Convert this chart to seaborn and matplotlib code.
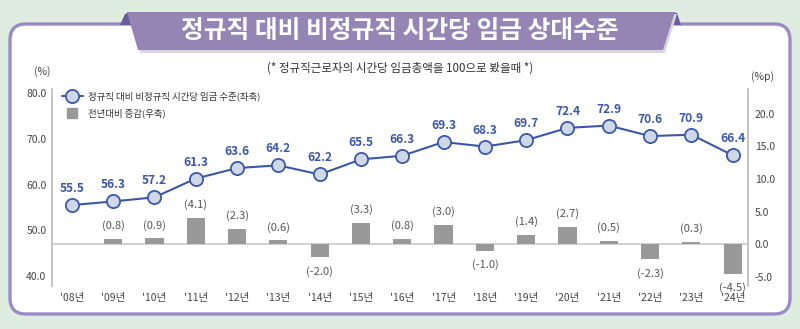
import numpy as np
import pandas as pd
import matplotlib
matplotlib.use("Agg")
import matplotlib.pyplot as plt
from matplotlib.patches import FancyBboxPatch, Polygon
from matplotlib.lines import Line2D
from matplotlib.transforms import IdentityTransform
import seaborn as sns

# ---- data ----
years = ["'08년", "'09년", "'10년", "'11년", "'12년", "'13년", "'14년", "'15년", "'16년",
         "'17년", "'18년", "'19년", "'20년", "'21년", "'22년", "'23년", "'24년"]
relative_wage = [55.5, 56.3, 57.2, 61.3, 63.6, 64.2, 62.2, 65.5, 66.3,
                 69.3, 68.3, 69.7, 72.4, 72.9, 70.6, 70.9, 66.4]
yoy_change = [np.nan, 0.8, 0.9, 4.1, 2.3, 0.6, -2.0, 3.3, 0.8,
              3.0, -1.0, 1.4, 2.7, 0.5, -2.3, 0.3, -4.5]

title = "정규직 대비 비정규직 시간당 임금 상대수준"
subtitle = "(* 정규직근로자의 시간당 임금총액을 100으로 봤을때 *)"
line_label = "정규직 대비 비정규직 시간당 임금 수준(좌축)"
bar_label = "전년대비 증감(우축)"

df = pd.DataFrame({"idx": np.arange(len(years)), "year": years,
                   "wage": relative_wage, "change": yoy_change})

sns.set_theme(style="white")
plt.rcParams["font.family"] = ["Noto Sans CJK KR", "DejaVu Sans"]

W, H = 800, 329
BG = "#dfede0"
PURPLE = "#9585b5"
PURPLE_DARK = "#6a5aa0"
BORDER = "#9c8ac4"
BLUE = "#3b58a8"
MARKER_FILL = "#cfd8e7"
BAR = "#999999"
TICK = "#444444"

fig = plt.figure(figsize=(W / 100, H / 100), dpi=100, facecolor=BG)


def px(x, y):
    """top-left pixel coordinates -> display coordinates"""
    return (x, H - y)


# white rounded panel
panel = FancyBboxPatch(px(10, 314), 780, 290,
                       boxstyle="round,pad=0,rounding_size=16",
                       facecolor="white", edgecolor=BORDER, linewidth=2.4,
                       transform=IdentityTransform(), zorder=-5)
fig.patches.append(panel)

# title banner with folded corners
fold_l = Polygon([px(120, 25), px(125, 14), px(129, 12), px(133, 25)], closed=True,
                 facecolor=PURPLE_DARK, edgecolor="none", transform=IdentityTransform(), zorder=-4)
fold_r = Polygon([px(668, 25), px(673, 12), px(677, 13), px(681, 25)], closed=True,
                 facecolor=PURPLE_DARK, edgecolor="none", transform=IdentityTransform(), zorder=-4)
shadow = Polygon([px(129, 14), px(677, 14), px(665, 53), px(140, 53)], closed=True,
                 facecolor="#d9d6de", edgecolor="none", transform=IdentityTransform(), zorder=-4)
banner = Polygon([px(127, 12), px(675, 12), px(663, 50), px(138, 50)], closed=True,
                 facecolor=PURPLE, edgecolor="none", transform=IdentityTransform(), zorder=-3)
for p in (fold_l, fold_r, shadow, banner):
    fig.patches.append(p)

fig.text(400 / W, 1 - 31 / H, title, ha="center", va="center", color="white",
         fontsize=17.8, fontweight="bold", zorder=3)
fig.text(400 / W, 1 - 68 / H, subtitle, ha="center", va="center", color="#333333",
         fontsize=8.3, zorder=3)
fig.text(42 / W, 1 - 72 / H, "(%)", ha="center", va="center", color=TICK, fontsize=7.5)
fig.text(762 / W, 1 - 77 / H, "(%p)", ha="center", va="center", color=TICK, fontsize=7.5)

# ---- axes ----
ax1 = fig.add_axes([52 / W, 1 - 286 / H, (748 - 52) / W, (286 - 89) / H])
ax1.patch.set_visible(False)
ax2 = ax1.twinx()
ax2.patch.set_visible(False)

# bars: change vs previous year (right axis)
bar_df = df.dropna(subset=["change"])
sns.barplot(data=bar_df, x="idx", y="change", native_scale=True, width=0.44,
            color=BAR, saturation=1, linewidth=0, ax=ax2, zorder=2)
ax2.axhline(0, color="#c8c8c8", lw=1.2, zorder=1)
for x, v in zip(bar_df["idx"], bar_df["change"]):
    off = 1.2 if v >= 0 else -1.3
    ax2.text(x, v + off, f"({v:.1f})", ha="center",
             va="bottom" if v >= 0 else "top", fontsize=8, color="#555555")

# line: relative wage level (left axis)
sns.lineplot(data=df, x="idx", y="wage", ax=ax1, color=BLUE, lw=1.5,
             marker="o", markersize=9.5, markerfacecolor=MARKER_FILL,
             markeredgecolor=BLUE, markeredgewidth=1.3, zorder=5)
for x, v in zip(df["idx"], df["wage"]):
    ax1.text(x, v + 2.2, f"{v:.1f}", ha="center", va="bottom", fontsize=8.6,
             fontweight="bold", color=BLUE)

ax1.set_zorder(ax2.get_zorder() + 1)

ax1.set_xlim(-0.48, 16.37)
ax1.set_ylim(37.8, 80.9)
ax2.set_ylim(-6.4, 23.8)
ax1.set_yticks([40, 50, 60, 70, 80])
ax1.set_yticklabels([f"{v:.1f}" for v in [40, 50, 60, 70, 80]])
ax2.set_yticks([-5, 0, 5, 10, 15, 20])
ax2.set_yticklabels([f"{v:.1f}" for v in [-5, 0, 5, 10, 15, 20]])
ax1.set_xticks(df["idx"])
ax1.set_xticklabels(years)
ax2.set_xlim(-0.48, 16.37)
for a in (ax1, ax2):
    a.set_xlabel("")
    a.set_ylabel("")
    a.tick_params(axis="both", length=0, labelsize=7.5, labelcolor=TICK)
    a.grid(False)
    for s in ("top", "bottom"):
        a.spines[s].set_visible(False)
ax2.tick_params(axis="x", labelbottom=False)
ax1.tick_params(axis="y", pad=4)
ax2.tick_params(axis="y", pad=5, labelright=True)
ax1.tick_params(axis="x", pad=5)
ax2.spines["left"].set_visible(False)
ax1.spines["right"].set_visible(False)
ax1.spines["left"].set_color("#bbbbbb")
ax2.spines["right"].set_visible(True)
ax2.spines["right"].set_color("#bbbbbb")

# legend
handles = [Line2D([], [], color=BLUE, lw=1.5, marker="o", markersize=9.5,
                  markerfacecolor=MARKER_FILL, markeredgecolor=BLUE, markeredgewidth=1.3),
           Line2D([], [], lw=0, marker="s", markersize=7, markerfacecolor=BAR,
                  markeredgecolor=BAR)]
ax1.legend(handles, [line_label, bar_label], loc="upper left",
           bbox_to_anchor=(58 / W, 1 - 88 / H), bbox_transform=fig.transFigure,
           frameon=False, fontsize=6.8, handlelength=2.2, handletextpad=0.6,
           labelspacing=0.7, borderaxespad=0, labelcolor="#333333")

fig.savefig("out.png", dpi=100, facecolor=BG)
